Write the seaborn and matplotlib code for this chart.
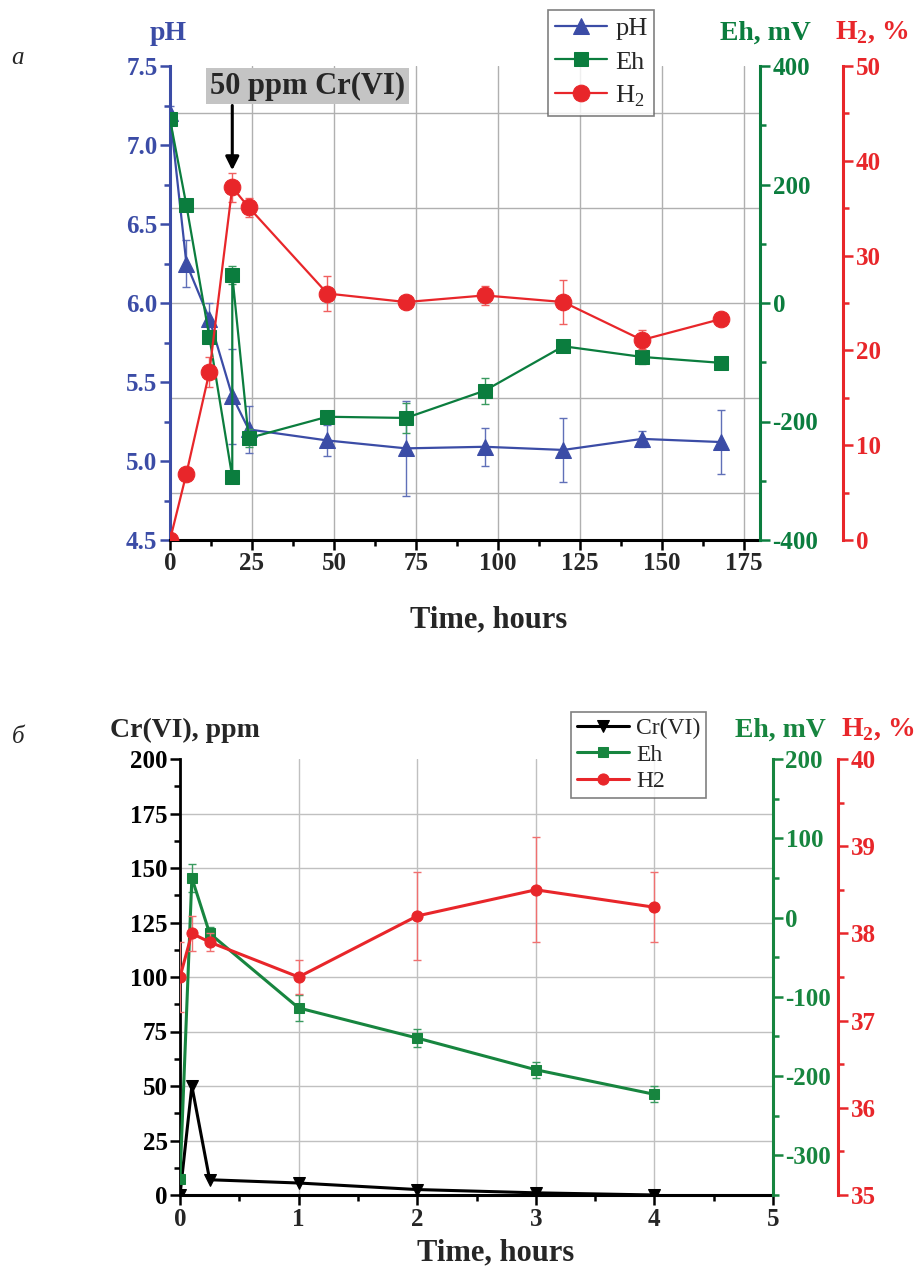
import numpy as np
import pandas as pd
import seaborn as sns
import matplotlib.pyplot as plt
from matplotlib.ticker import MultipleLocator

sns.set_style("white")
plt.rcParams['font.family'] = ['Liberation Serif', 'DejaVu Serif']
plt.rcParams['axes.unicode_minus'] = False
plt.rcParams['mathtext.fontset'] = 'custom'
plt.rcParams['mathtext.rm'] = 'Liberation Serif'
plt.rcParams['mathtext.bf'] = 'Liberation Serif:bold'

# ---- panel a data ----
time_a = [0, 5, 12, 19, 24, 48, 72, 96, 120, 144, 168]
ph = [7.2, 6.25, 5.9, 5.41, 5.2, 5.13, 5.08, 5.09, 5.07, 5.14, 5.12]
ph_err = [0.05, 0.15, 0.1, 0.3, 0.15, 0.1, 0.3, 0.12, 0.2, 0.05, 0.2]

time_eh_a = [0, 5, 12, 19, 19, 24, 48, 72, 96, 120, 144, 168]
eh_a = [310, 165, -57, -294, 47, -228, -192, -194, -148, -73, -91, -101]
eh_a_err = [5, 5, 10, 5, 15, 15, 10, 25, 22, 5, 12, 8]

h2_a = [0, 7.0, 17.7, 37.2, 35.1, 26.0, 25.1, 25.8, 25.1, 21.1, 23.3]
h2_a_err = [0, 0.3, 1.6, 1.5, 1.0, 1.8, 0.3, 1.0, 2.3, 1.0, 0.3]

# ---- panel b data ----
time_b = [0, 0.1, 0.25, 1, 2, 3, 4]
cr = [0, 50, 7, 5.5, 2.5, 1, 0]
eh_b = [-330, 50, -20, -114, -152, -192, -223]
eh_b_err = [0, 18, 8, 16, 11, 10, 10]
h2_b = [37.5, 38.0, 37.9, 37.5, 38.2, 38.5, 38.3]
h2_b_err = [0.4, 0.2, 0.1, 0.2, 0.5, 0.6, 0.4]

BLUE = '#3b4ca6'
GREEN = '#0b7d3e'
RED = '#e8262a'
W, H = 917, 1272
TICK = 18
LAB = 20

fig = plt.figure(figsize=(W / 100, H / 100), dpi=100)


def style_axis(ax, side, color, major, minor, offset=0):
    for s in ['top', 'left', 'right', 'bottom']:
        ax.spines[s].set_visible(False)
    ax.spines[side].set_visible(True)
    ax.spines[side].set_color(color)
    ax.spines[side].set_linewidth(2.2)
    if offset:
        ax.spines[side].set_position(('outward', offset))
    ax.yaxis.set_major_locator(MultipleLocator(major))
    ax.yaxis.set_minor_locator(MultipleLocator(minor))
    ax.tick_params(axis='y', which='both', direction='out', color=color,
                   labelcolor=color, width=1.8, labelsize=TICK, left=(side == 'left'),
                   right=(side == 'right'), labelleft=(side == 'left'),
                   labelright=(side == 'right'), pad=2)
    ax.tick_params(axis='y', which='major', length=7)
    ax.tick_params(axis='y', which='minor', length=4)
    for lab in ax.get_yticklabels():
        lab.set_fontweight('bold')


def style_x(ax, major, minor):
    ax.spines['bottom'].set_visible(True)
    ax.spines['bottom'].set_color('black')
    ax.spines['bottom'].set_linewidth(2.2)
    ax.xaxis.set_major_locator(MultipleLocator(major))
    ax.xaxis.set_minor_locator(MultipleLocator(minor))
    ax.tick_params(axis='x', which='both', direction='out', color='black',
                   width=1.8, labelsize=TICK, bottom=True, pad=2)
    ax.tick_params(axis='x', which='major', length=7)
    ax.tick_params(axis='x', which='minor', length=4)
    for lab in ax.get_xticklabels():
        lab.set_fontweight('bold')


def merged_legend(axes, anchor, size, spacing, hlen):
    handles = []
    labels = []
    for a in axes:
        h, l = a.get_legend_handles_labels()
        handles += h
        labels += l
    leg = fig.legend(handles, labels, loc='upper left', bbox_to_anchor=anchor,
                     fontsize=size, frameon=True, fancybox=False,
                     edgecolor='#606060', handlelength=hlen, borderpad=0.25,
                     labelspacing=spacing, handletextpad=0.3, borderaxespad=0)
    leg.get_frame().set_linewidth(1.2)
    return leg


# ================= panel a =================
ax = fig.add_axes([170 / W, 1 - 540 / H, 590 / W, 474 / H])
ax2 = ax.twinx()
ax3 = ax.twinx()

sns.lineplot(x=time_a, y=ph, ax=ax, color=BLUE, marker='^', markersize=12,
             markeredgecolor=BLUE, linewidth=1.6, label='pH', legend=False,
             estimator=None, sort=False)
ax.errorbar(time_a, ph, yerr=ph_err, fmt='none', ecolor='#6070b8',
            elinewidth=1, capsize=3, capthick=1, zorder=1.5)
sns.lineplot(x=time_eh_a, y=eh_a, ax=ax2, color=GREEN, marker='s', markersize=10,
             markeredgecolor=GREEN, linewidth=1.6, label='Eh', legend=False,
             estimator=None, sort=False)
ax2.errorbar(time_eh_a, eh_a, yerr=eh_a_err, fmt='none', ecolor='#3a9a60',
             elinewidth=1, capsize=3, capthick=1, zorder=1.5)
sns.lineplot(x=time_a, y=h2_a, ax=ax3, color=RED, marker='o', markersize=12,
             markeredgecolor=RED, linewidth=1.6, label='H$_2$', legend=False,
             estimator=None, sort=False)
ax3.errorbar(time_a, h2_a, yerr=h2_a_err, fmt='none', ecolor='#f06060',
             elinewidth=1, capsize=3, capthick=1, zorder=1.5)

ax.set_xlim(0, 180)
ax.set_ylim(4.5, 7.5)
ax2.set_ylim(-400, 400)
ax3.set_ylim(0, 50)
ax.set_xlabel('')
ax.set_ylabel('')
ax.grid(False)
for yv in [4.8, 5.4, 6.0, 6.6, 7.2]:
    ax.axhline(yv, color='#b0b0b0', linewidth=1, zorder=0)
for xv in range(25, 180, 25):
    ax.axvline(xv, color='#b0b0b0', linewidth=1, zorder=0)

style_axis(ax, 'left', BLUE, 0.5, 0.25)
style_axis(ax2, 'right', GREEN, 200, 100)
style_axis(ax3, 'right', RED, 10, 5, offset=60)
style_x(ax, 25, 12.5)

# Cr(VI) addition marker
ax.text(42, 7.373, '50 ppm Cr(VI)', ha='center', va='center', fontsize=22,
        fontweight='bold',
        bbox=dict(boxstyle='square,pad=0.12', facecolor='#c4c4c4',
                  edgecolor='none'))
ax.annotate('', xy=(19, 6.84), xytext=(19, 7.25),
            arrowprops=dict(arrowstyle='-|>', color='black', lw=2.2,
                            mutation_scale=20, shrinkA=0, shrinkB=0),
            annotation_clip=False)

merged_legend((ax, ax2, ax3), (548 / W, 1 - 10 / H), 19, 0.38, 2.0)

fig.text(168 / W, 1 - 33 / H, 'pH', color=BLUE, fontsize=LAB, fontweight='bold',
         ha='center', va='center')
fig.text(765 / W, 1 - 33 / H, 'Eh, mV', color=GREEN, fontsize=LAB,
         fontweight='bold', ha='center', va='center')
fig.text(835 / W, 1 - 33 / H, r'H$_\mathbf{2}$, %', color=RED, fontsize=LAB,
         fontweight='bold', ha='left', va='center')
fig.text(489 / W, 1 - 620 / H, 'Time, hours', fontsize=22, fontweight='bold',
         ha='center', va='center')
fig.text(18 / W, 1 - 58 / H, 'a', fontsize=18, style='italic',
         ha='center', va='center')

# ================= panel b =================
bx = fig.add_axes([180 / W, 1 - 1195 / H, 593 / W, 436 / H])
bx2 = bx.twinx()
bx3 = bx.twinx()

sns.lineplot(x=time_b, y=cr, ax=bx, color='black', marker='v', markersize=8,
             markeredgecolor='black', linewidth=2.2, label='Cr(VI)', legend=False,
             estimator=None, sort=False)
sns.lineplot(x=time_b, y=eh_b, ax=bx2, color='#17853f', marker='s', markersize=7,
             markeredgecolor='#17853f', linewidth=2.2, label='Eh', legend=False,
             estimator=None, sort=False)
bx2.errorbar(time_b, eh_b, yerr=eh_b_err, fmt='none', ecolor='#3a9a60',
             elinewidth=1, capsize=3, capthick=1, zorder=1.5)
sns.lineplot(x=time_b, y=h2_b, ax=bx3, color=RED, marker='o', markersize=8,
             markeredgecolor=RED, linewidth=2.2, label='H2', legend=False,
             estimator=None, sort=False)
bx3.errorbar(time_b, h2_b, yerr=h2_b_err, fmt='none', ecolor='#f07070',
             elinewidth=1, capsize=3, capthick=1, zorder=1.5)

bx.set_xlim(0, 5)
bx.set_ylim(0, 200)
bx2.set_ylim(-350, 200)
bx3.set_ylim(35, 40)
bx.set_xlabel('')
bx.set_ylabel('')
bx.grid(False)
for yv in range(25, 200, 25):
    bx.axhline(yv, color='#c0c0c0', linewidth=1, zorder=0)
for xv in range(1, 5):
    bx.axvline(xv, color='#c0c0c0', linewidth=1, zorder=0)

style_axis(bx, 'left', 'black', 25, 12.5)
style_axis(bx2, 'right', '#17853f', 100, 50)
style_axis(bx3, 'right', RED, 1, 0.5, offset=47)
style_x(bx, 1, 0.5)
bx.spines['left'].set_linewidth(2.0)

merged_legend((bx, bx2, bx3), (571 / W, 1 - 712 / H), 17, 0.2, 2.2)

fig.text(185 / W, 1 - 730 / H, 'Cr(VI), ppm', fontsize=LAB, fontweight='bold',
         ha='center', va='center')
fig.text(780 / W, 1 - 730 / H, 'Eh, mV', color='#17853f', fontsize=LAB,
         fontweight='bold', ha='center', va='center')
fig.text(914 / W, 1 - 730 / H, r'H$_\mathbf{2}$, %', color=RED, fontsize=LAB,
         fontweight='bold', ha='right', va='center')
fig.text(496 / W, 1 - 1253 / H, 'Time, hours', fontsize=22, fontweight='bold',
         ha='center', va='center')
fig.text(18 / W, 1 - 737 / H, 'б', fontsize=18, style='italic',
         ha='center', va='center')

fig.savefig('out.png', dpi=100)
